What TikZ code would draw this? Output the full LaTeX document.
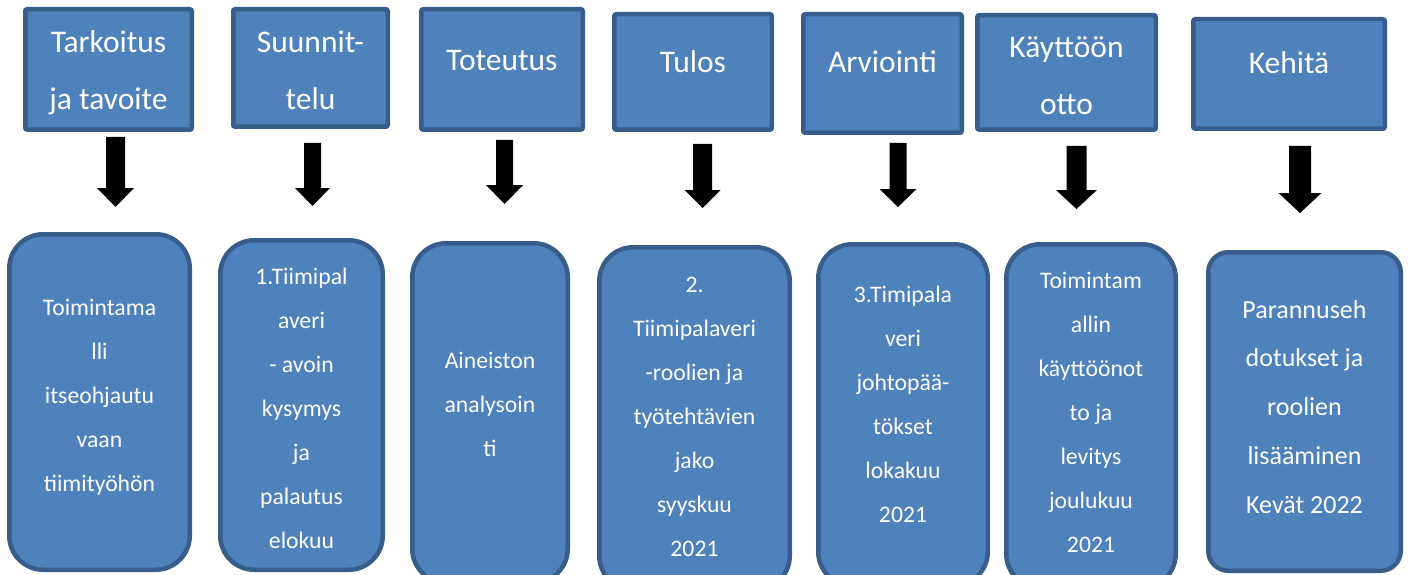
\documentclass[tikz,border=0pt]{standalone}
\usepackage{fontspec}
\setmainfont{Carlito}
\definecolor{boxfill}{HTML}{4F81BD}
\definecolor{boxline}{HTML}{385D8A}

% rectangle node given by its outer edges: style, name, x1, y1, x2, y2
\newcommand\rectnode[6]{%
  \node[#1, minimum width={#5-#3-4.5}, minimum height={#6-#4-4.5}]
    (#2) at ({(#3+#5)/2},{(#4+#6)/2}) {};}

% black block arrow pointing down: name, centre x, top, head start, tip, shaft width, head width
\newcommand\blockarrow[7]{%
  \coordinate (#1) at (#2,#3);
  \fill[black] (#1) ++({-#6/2},0) -- ++(#6,0) -- ++(0,{#4-#3})
    -- ++({(#7-#6)/2},0) -- (#2,#5) -- ({#2-#7/2},#4) -- ++({(#7-#6)/2},0) -- cycle;}

\begin{document}
\begin{tikzpicture}[x=1pt,y=-1pt,
  box/.style={draw=boxline, fill=boxfill, line width=4.5pt, inner sep=0pt, outer sep=0pt},
  topbox/.style={box, rounded corners=2pt},
  stepcard/.style={box, rounded corners=34pt},
  softcard/.style={box, rounded corners=20pt},
  % text nodes are placed by the baseline of their last line
  headtext/.style={text=white, align=center, inner sep=0pt, anchor=base,
    font=\fontsize{31.5}{57}\selectfont},
  cardtext/.style={text=white, align=center, inner sep=0pt, anchor=base,
    font=\fontsize{23.7}{44}\selectfont},
  widetext/.style={cardtext, font=\fontsize{26}{48.7}\selectfont},
  ]
\useasboundingbox (0,0) rectangle (1411,575);
\clip (0,0) rectangle (1411,575);

% phase headings
\rectnode{topbox}{t1}{23}{7}{194}{132}
\rectnode{topbox}{t2}{231}{7}{390}{129}
\rectnode{topbox}{t3}{419}{7}{585}{132}
\rectnode{topbox}{t4}{612}{12}{774}{132}
\rectnode{topbox}{t5}{801}{12}{964}{135}
\rectnode{topbox}{t6}{975}{13}{1158}{132}
\rectnode{topbox}{t7}{1191}{17}{1387}{131}

\node[headtext] (t1x) at (108.5,110) {Tarkoitus\\ja tavoite};
\node[headtext] (t2x) at (310.5,110) {Suunnit-\\telu};
\node[headtext] (t3x) at (502,71) {Toteutus};
\node[headtext] (t4x) at (693,73) {Tulos};
\node[headtext] (t5x) at (882.5,73) {Arviointi};
\node[headtext] (t6x) at (1066.5,114.5) {Käyttöön\\otto};
\node[headtext] (t7x) at (1289,74) {Kehitä};

% arrows between heading and card
\blockarrow{a1}{115.5}{137}{188}{207}{19}{37}
\blockarrow{a2}{312.5}{143}{188}{206}{17}{35}
\blockarrow{a3}{504.5}{140}{185}{204}{17}{37}
\blockarrow{a4}{702.5}{144}{190}{208}{19}{36}
\blockarrow{a5}{898}{143}{189}{207}{17}{37}
\blockarrow{a6}{1076.5}{146}{190}{209}{20}{41}
\blockarrow{a7}{1300}{146}{193}{213}{22}{43}

% content cards
\rectnode{stepcard}{b1}{7}{232}{192}{572}
\rectnode{stepcard}{b2}{218}{238}{385}{572}
\rectnode{stepcard}{b3}{410}{241}{570}{585}
\rectnode{stepcard}{b4}{597}{245}{792}{592}
\rectnode{stepcard}{b5}{816}{242}{990}{588}
\rectnode{stepcard}{b6}{1004}{242}{1178}{590}
\rectnode{softcard}{b7}{1206}{250}{1403}{573}

\node[cardtext] (b1x) at (99.5,491) {Toimintama\\lli\\itseohjautu\\vaan\\tiimityöhön};
\node[cardtext] (b2x) at (301.5,548) {1.Tiimipal\\averi\\- avoin\\kysymys\\ja\\palautus\\elokuu};
\node[cardtext] (b3x) at (490,456) {Aineiston\\analysoin\\ti};
\node[cardtext] (b4x) at (694.5,556) {2.\\Tiimipalaveri\\-roolien ja\\työtehtävien\\jako\\syyskuu\\2021};
\node[cardtext] (b5x) at (903,522) {3.Timipala\\veri\\johtopää-\\tökset\\lokakuu\\2021};
\node[cardtext] (b6x) at (1091,552) {Toimintam\\allin\\käyttöönot\\to ja\\levitys\\joulukuu\\2021};
\node[widetext] (b7x) at (1304.5,513) {Parannuseh\\dotukset ja\\roolien\\lisääminen\\Kevät 2022};
\end{tikzpicture}
\end{document}
